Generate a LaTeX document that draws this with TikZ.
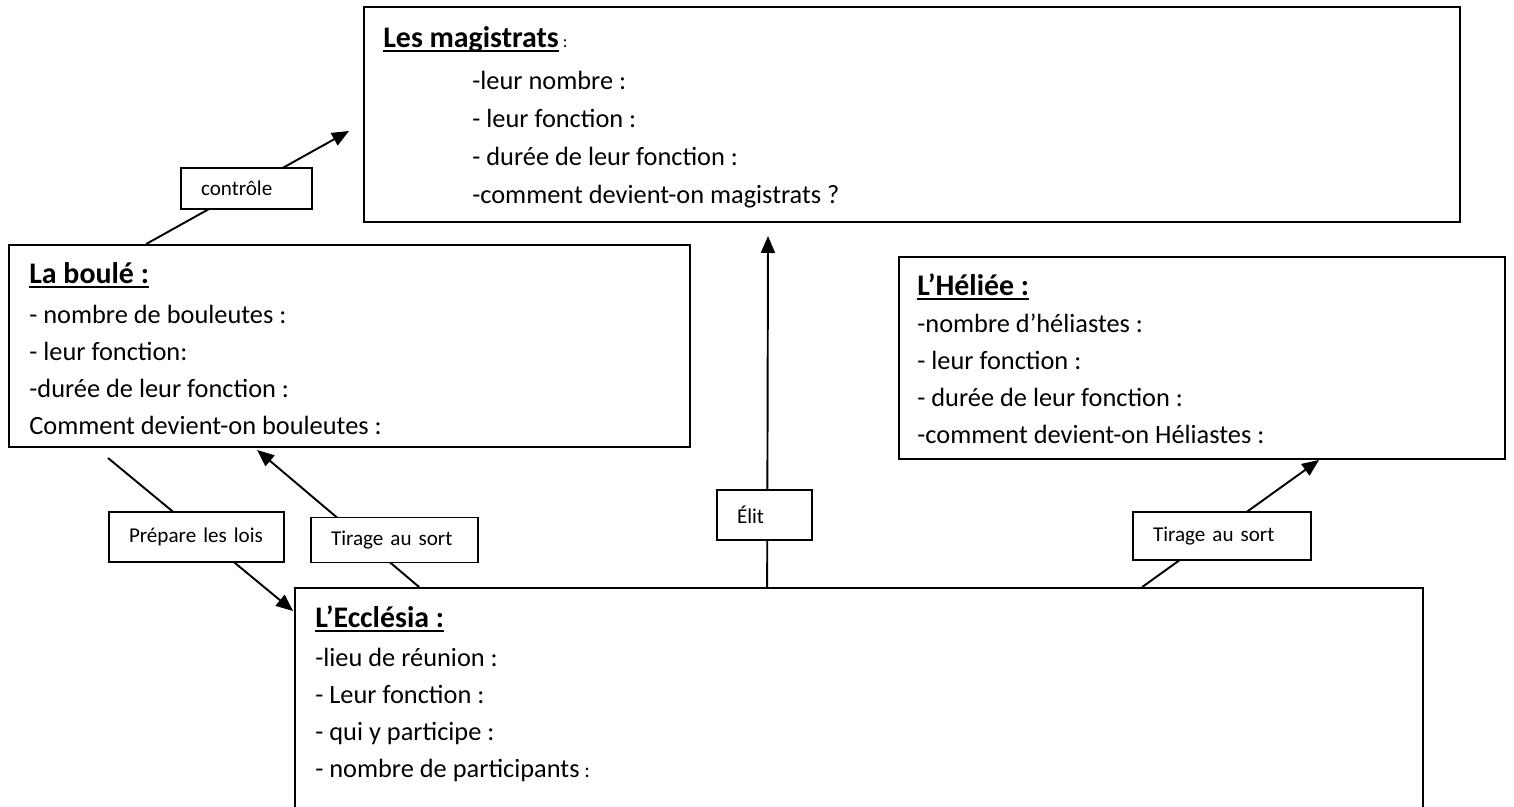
\documentclass[tikz,border=0pt]{standalone}
\usepackage{fontspec}
\setmainfont{Carlito}
\usetikzlibrary{arrows.meta,backgrounds,calc,positioning}

\newcommand\titre[1]{{\fontsize{17}{21}\selectfont\setbox0\hbox{\textbf{#1}}%
        \rlap{\rule[-2.6pt]{\wd0}{1.1pt}}\box0}}

\tikzset{
        cadre/.style={draw, line width=1.1pt, inner sep=0pt},
        etiq/.style={draw, fill=white, line width=0.8pt, inner xsep=0.4cm, inner ysep=0pt,
                align=left, font=\fontsize{12}{14}\selectfont},
        texte/.style={align=left, inner sep=0pt, anchor=base west, font=\fontsize{15}{21}\selectfont},
        fleche/.style={line width=1.1pt, -{Triangle[length=0.34cm, width=0.28cm]}}
}

\begin{document}
\begin{tikzpicture}[x=0.02cm, y=-0.02cm]
        \useasboundingbox (0, 0) rectangle (1514, 807);
        \clip (0, 0) rectangle (1514, 807);

        % les quatre cadres
        \node[cadre, minimum width=21.92cm, minimum height=4.3cm] (magis) at (912, 114.5) {};
        \node[cadre, minimum width=13.62cm, minimum height=4.04cm] (boule) at (349.5, 346) {};
        \node[cadre, minimum width=12.12cm, minimum height=4.04cm] (heliee) at (1202, 358) {};
        \node[cadre, minimum width=22.56cm, minimum height=4.84cm] (eccl) at (859, 709) {};

        % textes (ancre sur la derniere ligne)
        \node[texte] (magis-t) at (383, 204) {\titre{Les magistrats}{\fontsize{10}{12}\selectfont\ :}\\[3pt]
                \hspace*{1.78cm}-leur nombre :\\[0.7pt]
                \hspace*{1.78cm}- leur fonction :\\[0.7pt]
                \hspace*{1.78cm}- durée de leur fonction :\\[0.7pt]
                \hspace*{1.78cm}-comment devient-on magistrats ?};
        \node[texte] (boule-t) at (29, 434) {\titre{La boulé :}\\[1.7pt]
                - nombre de bouleutes :\\
                - leur fonction:\\
                -durée de leur fonction :\\
                Comment devient-on bouleutes :};
        \node[texte] (heliee-t) at (917, 443) {\titre{L’Héliée :}\\
                -nombre d’héliastes :\\
                - leur fonction :\\
                - durée de leur fonction :\\
                -comment devient-on Héliastes :};
        \node[texte] (eccl-t) at (315, 777) {\titre{L’Ecclésia :}\\[1.1pt]
                -lieu de réunion :\\
                - Leur fonction :\\
                - qui y participe :\\
                - nombre de participants{\fontsize{12}{14}\selectfont\ :}};

        % les etiquettes
        \node[etiq, text width=1.82cm, minimum height=0.82cm] (ctrl) at (246.5, 188.5) {contrôle};
        \node[etiq, text width=2.7cm, minimum height=1.0cm] (prep) at (196.5, 537) {Prépare les lois};
        \node[etiq, text width=2.54cm, minimum height=0.9cm] (tirg) at (394.5, 540) {Tirage au sort};
        \node[etiq, text width=1.1cm, minimum height=1.0cm] (elit) at (764.5, 515) {Élit};
        \node[etiq, text width=2.76cm, minimum height=0.96cm] (tird) at (1222, 536) {Tirage au sort};

        \coordinate (ctrl-b) at (349, 131);
        \coordinate (prep-a) at (108, 458);
        \coordinate (elit-b) at (768, 236);

        \begin{scope}[on background layer]
                \draw[fleche] ($(boule.north west)+(138, 0)$) -- (ctrl-b);
                \draw[fleche] (prep-a) -- ($(eccl.north west)+(-1, 24)$);
                \draw[fleche] ($(eccl.north west)+(125, 0)$) -- ($(boule.south west)+(249, 2)$);
                \draw[fleche] ($(eccl.north west)+(473, 0)$) -- (elit-b);
                \draw[fleche] ($(eccl.north west)+(848, 0)$) -- ($(heliee.south west)+(421, 0)$);
        \end{scope}
\end{tikzpicture}
\end{document}
